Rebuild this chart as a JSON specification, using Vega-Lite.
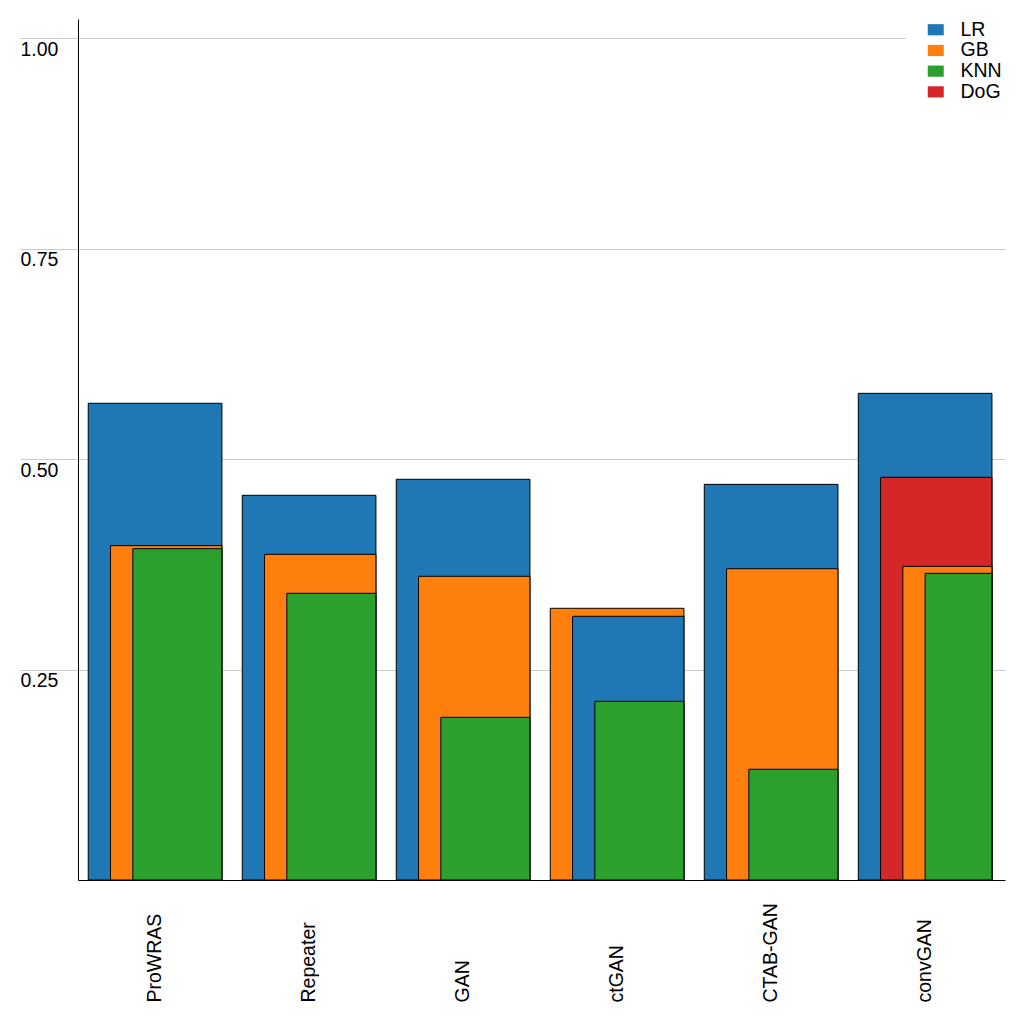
{
  "$schema": "https://vega.github.io/schema/vega-lite/v6.json",
  "width": 927,
  "height": 861,
  "autosize": {"type": "none"},
  "padding": {"left": 78, "top": 19, "right": 19, "bottom": 144},
  "background": "white",
  "config": {"view": {"stroke": null}, "font": "Liberation Sans"},
  "data": {
    "values": [
      {"model": "ProWRAS", "clf": "LR", "value": 0.5662},
      {"model": "ProWRAS", "clf": "GB", "value": 0.3971},
      {"model": "ProWRAS", "clf": "KNN", "value": 0.3935},
      {"model": "Repeater", "clf": "LR", "value": 0.4569},
      {"model": "Repeater", "clf": "GB", "value": 0.3868},
      {"model": "Repeater", "clf": "KNN", "value": 0.3405},
      {"model": "GAN", "clf": "LR", "value": 0.4759},
      {"model": "GAN", "clf": "GB", "value": 0.3607},
      {"model": "GAN", "clf": "KNN", "value": 0.1932},
      {"model": "ctGAN", "clf": "LR", "value": 0.3132},
      {"model": "ctGAN", "clf": "GB", "value": 0.3227},
      {"model": "ctGAN", "clf": "KNN", "value": 0.2122},
      {"model": "CTAB-GAN", "clf": "LR", "value": 0.4699},
      {"model": "CTAB-GAN", "clf": "GB", "value": 0.3697},
      {"model": "CTAB-GAN", "clf": "KNN", "value": 0.1315},
      {"model": "convGAN", "clf": "LR", "value": 0.578},
      {"model": "convGAN", "clf": "DoG", "value": 0.4783},
      {"model": "convGAN", "clf": "GB", "value": 0.3725},
      {"model": "convGAN", "clf": "KNN", "value": 0.3642}
    ]
  },
  "transform": [
    {"window": [{"op": "row_number", "as": "rank"}], "groupby": ["model"], "sort": [{"field": "value", "order": "descending"}]}
  ],
  "mark": {
    "type": "bar",
    "stroke": "black",
    "strokeWidth": 1,
    "width": {"expr": "bandwidth('x') * (1 - (datum.rank - 1) / 6)"},
    "xOffset": {"expr": "bandwidth('x') * (datum.rank - 1) / 12"}
  },
  "encoding": {
    "x": {
      "field": "model",
      "type": "nominal",
      "sort": ["ProWRAS", "Repeater", "GAN", "ctGAN", "CTAB-GAN", "convGAN"],
      "scale": {"paddingInner": 0.132, "paddingOuter": 0.0756, "align": 0.44},
      "axis": {
        "title": null,
        "labelAngle": -90,
        "labelAlign": "left",
        "labelBaseline": "middle",
        "labelPadding": 122,
        "ticks": false,
        "tickSize": 0,
        "labelFontSize": 19.5,
        "labelColor": "black",
        "labelFont": "Liberation Sans",
        "domainColor": "black",
        "domainWidth": 1,
        "grid": false
      }
    },
    "y": {
      "field": "value",
      "type": "quantitative",
      "stack": null,
      "scale": {"domain": [0, 1.0226], "nice": false, "zero": true},
      "axis": {
        "title": null,
        "values": [0.25, 0.5, 0.75, 1.0],
        "format": ".2f",
        "grid": true,
        "gridColor": "#cccccc",
        "gridWidth": 1,
        "ticks": true,
        "tickSize": 58,
        "tickColor": "#cccccc",
        "tickWidth": 1,
        "labelAlign": "left",
        "labelBaseline": "top",
        "labelPadding": 0,
        "labelOffset": 2,
        "labelFontSize": 19.5,
        "labelColor": "black",
        "labelFont": "Liberation Sans",
        "domainColor": "black",
        "domainWidth": 1
      }
    },
    "color": {
      "field": "clf",
      "type": "nominal",
      "scale": {"domain": ["LR", "GB", "KNN", "DoG"], "range": ["#1f77b4", "#ff7f0e", "#2ca02c", "#d62728"]},
      "legend": {
        "title": null,
        "orient": "none",
        "legendX": 828,
        "legendY": -19,
        "padding": 20,
        "fillColor": "white",
        "strokeColor": null,
        "symbolType": "M-1,-0.7H1V0.7H-1Z",
        "symbolSize": 256,
        "symbolStrokeWidth": 0,
        "symbolOpacity": 1,
        "labelOffset": 15,
        "labelFontSize": 19.5,
        "labelColor": "black",
        "labelFont": "Liberation Sans",
        "rowPadding": -0.3
      }
    },
    "order": {"field": "rank", "sort": "ascending"}
  }
}
